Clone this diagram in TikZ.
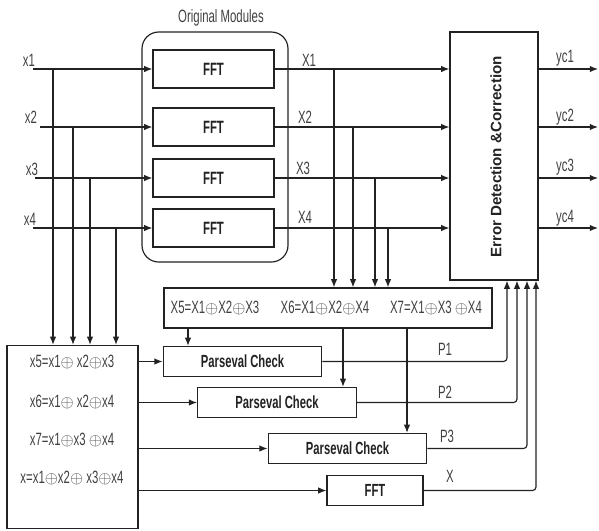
\documentclass[tikz,border=0pt]{standalone}
\usepackage{fontspec}
\setmainfont{Liberation Sans}[FakeStretch=0.64]
\newfontfamily\eccfont{Liberation Sans}
\usepackage{xcolor}
\usetikzlibrary{arrows.meta}
\definecolor{ink}{HTML}{222222}
\definecolor{txt}{HTML}{404040}
\tikzstyle{module} = [rectangle, minimum width=36.3mm, minimum height=11.4mm, text centered, draw=ink, text=ink, font=\fontsize{15.2}{18}\selectfont\bfseries]
\tikzstyle{check} = [rectangle, minimum width=47.6mm, minimum height=9mm, text centered, draw=ink, text=ink, font=\fontsize{15}{18}\selectfont\bfseries]
\tikzstyle{group} = [rectangle, rounded corners=5mm, minimum width=43.8mm, minimum height=69mm, draw=ink]
\tikzstyle{label} = [text=txt, inner sep=0pt]
\tikzstyle{arrow} = [->, draw=ink]

\begin{document}
\begin{tikzpicture}[x=0.3mm, y=-0.3mm, line width=1pt, inner sep=1pt, font=\fontsize{15.2}{18}\selectfont, >={Latex[length=7pt,width=5.5pt]}]
			\useasboundingbox (0, 0) rectangle (599, 530);
			
			\node(title) at (221, 18) [label] {Original Modules};
			\node(orig) at (215, 147) [group] {};
			\node(fft1) at (213.5, 69) [module] {FFT};
			\node(fft2) at (213.5, 127) [module] {FFT};
			\node(fft3) at (213.5, 178) [module] {FFT};
			\node(fft4) at (213.5, 228) [module] {FFT};
			\node(ecc) at (494, 156) [rectangle, minimum width=26.4mm, minimum height=74.4mm, draw=ink] {};
			\node(ecctext) at (496, 157) [rotate=90, text=ink, font=\eccfont\fontsize{12.9}{15}\selectfont\bfseries] {Error Detection \&Correction};
			\node(enc) at (72.5, 437) [rectangle, minimum width=39.3mm, minimum height=54.9mm, draw=ink] {};
			\node(f5) at (72, 362) [label] {x5=x1$\oplus$ x2$\oplus$x3};
			\node(f6) at (72, 402) [label] {x6=x1$\oplus$ x2$\oplus$x4};
			\node(f7) at (72, 440) [label] {x7=x1$\oplus$x3 $\oplus$x4};
			\node(fx) at (72, 478) [label] {x=x1$\oplus$x2$\oplus$ x3$\oplus$x4};
			\node(xbox) at (328, 308) [rectangle, minimum width=98.4mm, minimum height=12mm, draw=ink] {};
			\node(g5) at (215, 308) [label] {X5=X1$\oplus$X2$\oplus$X3};
			\node(g6) at (325, 308) [label] {X6=X1$\oplus$X2$\oplus$X4};
			\node(g7) at (436, 308) [label] {X7=X1$\oplus$X3 $\oplus$X4};
			\node(pc1) at (242.5, 361.5) [check] {Parseval Check};
			\node(pc2) at (277, 402.5) [check] {Parseval Check};
			\node(pc3) at (347.5, 448.5) [check] {Parseval Check};
			\node(fft5) at (375, 490.5) [check, minimum width=28.8mm] {FFT};
			
			% inputs
			\coordinate(in1) at (33, 69);
			\coordinate(in2) at (40, 127);
			\coordinate(in3) at (35, 178);
			\coordinate(in4) at (33, 228);
			\node(lx1) at (29, 60) [label] {x1};
			\node(lx2) at (31, 117) [label] {x2};
			\node(lx3) at (32, 169) [label] {x3};
			\node(lx4) at (30, 219) [label] {x4};
			\draw [arrow] (in1) -- (fft1.west);
			\draw [arrow] (in2) -- (fft2.west);
			\draw [arrow] (in3) -- (fft3.west);
			\draw [arrow] (in4) -- (fft4.west);
			\coordinate(t1) at (53, 69);
			\coordinate(t2) at (73, 127);
			\coordinate(t3) at (90, 178);
			\coordinate(t4) at (116, 228);
			\draw [arrow] (t1) -- (t1 |- enc.north);
			\draw [arrow] (t2) -- (t2 |- enc.north);
			\draw [arrow] (t3) -- (t3 |- enc.north);
			\draw [arrow] (t4) -- (t4 |- enc.north);
			
			% module outputs
			\node(lX1) at (309, 60) [label] {X1};
			\node(lX2) at (305, 117) [label] {X2};
			\node(lX3) at (303, 168) [label] {X3};
			\node(lX4) at (305, 217) [label] {X4};
			\draw [arrow] (fft1.east) -- (fft1.east -| ecc.west);
			\draw [arrow] (fft2.east) -- (fft2.east -| ecc.west);
			\draw [arrow] (fft3.east) -- (fft3.east -| ecc.west);
			\draw [arrow] (fft4.east) -- (fft4.east -| ecc.west);
			\coordinate(u1) at (334, 69);
			\coordinate(u2) at (353, 127);
			\coordinate(u3) at (375, 178);
			\coordinate(u4) at (388, 228);
			\draw [arrow] (u1) -- (u1 |- xbox.north);
			\draw [arrow] (u2) -- (u2 |- xbox.north);
			\draw [arrow] (u3) -- (u3 |- xbox.north);
			\draw [arrow] (u4) -- (u4 |- xbox.north);
			
			% corrected outputs
			\coordinate(o1) at (598, 69);
			\coordinate(o2) at (598, 127);
			\coordinate(o3) at (598, 178);
			\coordinate(o4) at (598, 228);
			\node(ly1) at (565, 58) [label] {yc1};
			\node(ly2) at (565, 117) [label] {yc2};
			\node(ly3) at (565, 167) [label] {yc3};
			\node(ly4) at (565, 218) [label] {yc4};
			\draw [arrow] (o1 -| ecc.east) -- (o1);
			\draw [arrow] (o2 -| ecc.east) -- (o2);
			\draw [arrow] (o3 -| ecc.east) -- (o3);
			\draw [arrow] (o4 -| ecc.east) -- (o4);
			
			% checks
			\coordinate(d5) at (188, 308);
			\coordinate(d6) at (343, 308);
			\coordinate(d7) at (407, 308);
			\draw [arrow] (d5 |- xbox.south) -- (d5 |- pc1.north);
			\draw [arrow] (d6 |- xbox.south) -- (d6 |- pc2.north);
			\draw [arrow] (d7 |- xbox.south) -- (d7 |- pc3.north);
			\draw [arrow] (pc1 -| enc.east) -- (pc1.west);
			\draw [arrow] (pc2 -| enc.east) -- (pc2.west);
			\draw [arrow] (pc3 -| enc.east) -- (pc3.west);
			\draw [arrow] (fft5 -| enc.east) -- (fft5.west);
			
			% back to correction
			\node(lp1) at (445, 349) [label] {P1};
			\node(lp2) at (445, 392) [label] {P2};
			\node(lp3) at (447, 436) [label] {P3};
			\node(lpx) at (450, 476) [label] {X};
			\draw [arrow, rounded corners=3pt] (pc1.east) -| ([xshift=3.9mm]ecc.south);
			\draw [arrow, rounded corners=3pt] (pc2.east) -| ([xshift=6.9mm]ecc.south);
			\draw [arrow, rounded corners=3pt] (pc3.east) -| ([xshift=9.9mm]ecc.south);
			\draw [arrow, rounded corners=3pt] (fft5.east) -| ([xshift=12.6mm]ecc.south);
		\end{tikzpicture}
\end{document}
